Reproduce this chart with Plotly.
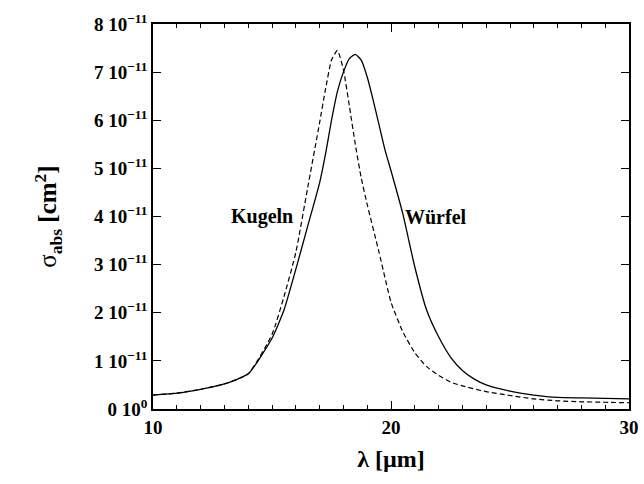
import plotly.graph_objects as go

# Absorption cross-section (units of 1e-11 cm^2) versus wavelength (µm)
lam_kugeln = [10, 11, 12, 13, 14, 15, 15.5, 16, 16.5, 17, 17.25, 17.5, 17.75,
              18, 18.25, 18.5, 18.75, 19, 19.5, 20, 20.5, 21, 21.5, 22, 22.5,
              23, 24, 25, 26, 27, 28, 29, 30]
sigma_kugeln = [0.29, 0.33, 0.41, 0.52, 0.73, 1.55, 2.33, 3.25, 4.6, 5.95, 6.65,
                7.25, 7.45, 7.05, 6.3, 5.5, 4.8, 4.25, 3.25, 2.22, 1.6, 1.17,
                0.88, 0.70, 0.56, 0.48, 0.36, 0.28, 0.21, 0.17, 0.15, 0.14, 0.13]

lam_wuerfel = [10, 11, 12, 13, 14, 15, 15.5, 16, 16.5, 17, 17.25, 17.5, 17.75,
               18, 18.25, 18.5, 18.75, 19, 19.25, 19.5, 19.75, 20, 20.5, 21,
               21.5, 22, 22.5, 23, 23.5, 24, 25, 26, 27, 28, 29, 30]
sigma_wuerfel = [0.29, 0.33, 0.41, 0.52, 0.73, 1.47, 2.05, 2.9, 3.8, 4.7, 5.3,
                 6.0, 6.6, 7.0, 7.28, 7.37, 7.25, 6.9, 6.42, 5.9, 5.38, 4.95,
                 4.05, 2.95, 2.05, 1.5, 1.08, 0.80, 0.62, 0.50, 0.37, 0.29,
                 0.24, 0.23, 0.22, 0.21]

scale = 1e-11
y_tick_vals = [0, 1, 2, 3, 4, 5, 6, 7, 8]
y_tick_text = ["0 10<sup>0</sup>"] + [
    f"{v} 10<sup>−11</sup>" for v in y_tick_vals[1:]]

font_family = "Liberation Serif"

fig = go.Figure()
fig.add_trace(go.Scatter(
    x=lam_kugeln, y=[v * scale for v in sigma_kugeln], mode="lines",
    line=dict(color="black", width=1.2, dash="5px,3px",
              shape="spline", smoothing=0.5),
    name="Kugeln"))
fig.add_trace(go.Scatter(
    x=lam_wuerfel, y=[v * scale for v in sigma_wuerfel], mode="lines",
    line=dict(color="black", width=1.3, shape="spline", smoothing=0.5),
    name="Würfel"))

fig.add_annotation(x=15.97, y=3.99e-11, text="<b>Kugeln</b>", showarrow=False,
                   xanchor="right", yanchor="middle",
                   font=dict(family=font_family, size=20, color="black"))
fig.add_annotation(x=20.5, y=3.99e-11, text="<b>Würfel</b>", showarrow=False,
                   xanchor="left", yanchor="middle",
                   font=dict(family=font_family, size=20, color="black"))

fig.update_layout(
    width=644, height=484,
    margin=dict(l=153, r=15, t=24, b=75),
    paper_bgcolor="white", plot_bgcolor="white",
    showlegend=False,
    font=dict(family=font_family, color="black"),
)
fig.update_xaxes(
    range=[10, 30], tickmode="linear", tick0=10, dtick=10,
    tickfont=dict(size=19, weight="bold"),
    ticks="inside", ticklen=8, tickwidth=1.3, tickcolor="black",
    minor=dict(dtick=1, ticks="inside", ticklen=4, tickwidth=1.2,
               tickcolor="black"),
    showline=True, linecolor="black", linewidth=1.5, mirror="ticks",
    showgrid=False, zeroline=False, automargin=False,
    title=dict(text="<b>λ [µm]</b>", font=dict(size=24), standoff=14),
)
fig.update_yaxes(
    range=[0, 8e-11], tickmode="array",
    tickvals=[v * scale for v in y_tick_vals], ticktext=y_tick_text,
    tickfont=dict(size=19, weight="bold"),
    ticks="inside", ticklen=8, tickwidth=1.3, tickcolor="black",
    showline=True, linecolor="black", linewidth=1.5, mirror="ticks",
    showgrid=False, zeroline=False, automargin=False,
    title=dict(text="σ<sub><b>abs</b></sub><b> [cm<sup>2</sup>]</b>",
               font=dict(size=25), standoff=30),
)

fig.write_html("out.html")
